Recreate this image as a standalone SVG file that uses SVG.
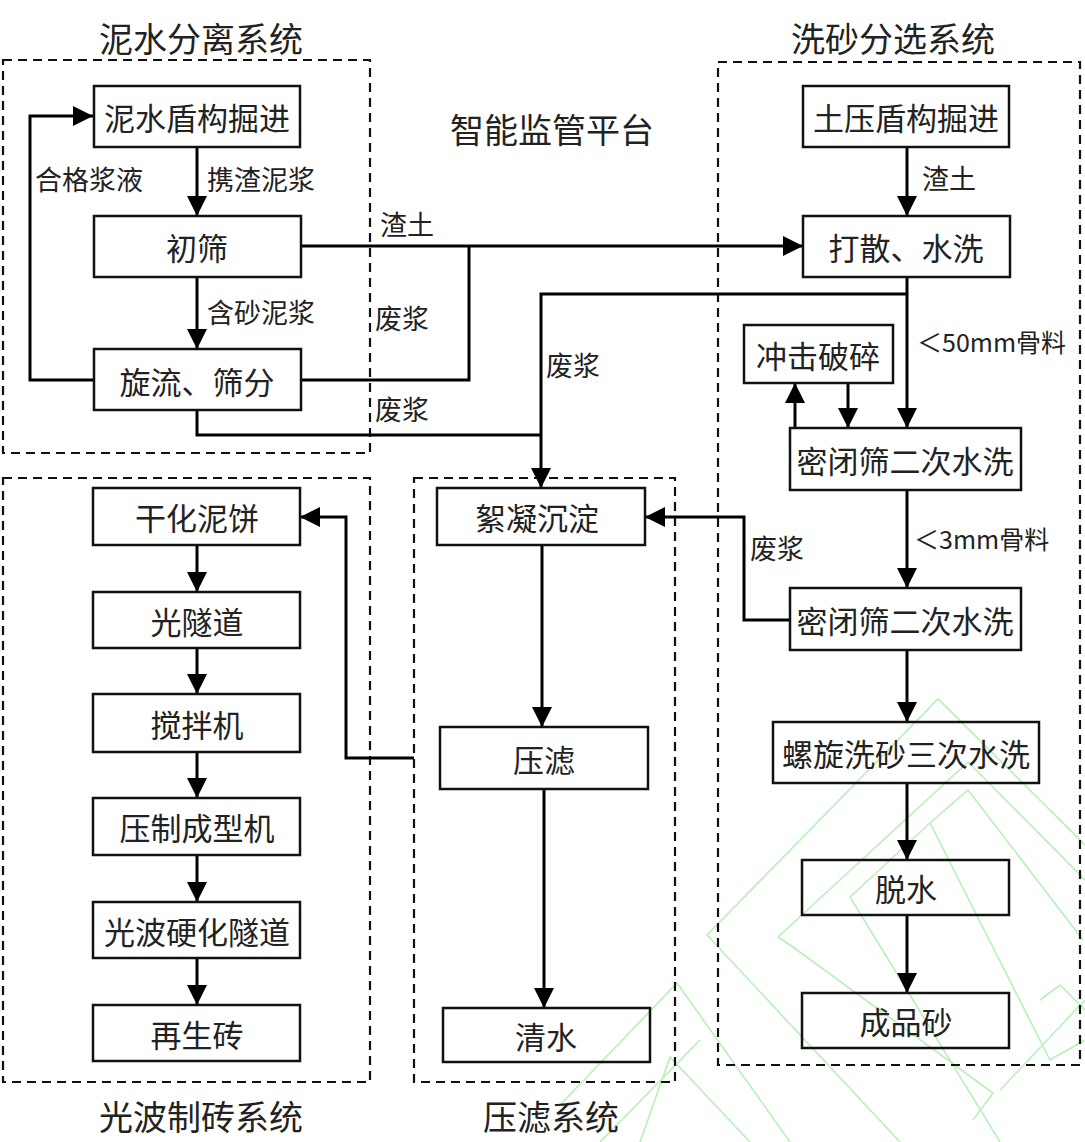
<svg xmlns="http://www.w3.org/2000/svg" width="1085" height="1142" viewBox="0 0 1085 1142">
<style>
.bg{fill:#fff}
.frame{fill:none;stroke:#111;stroke-width:2.2;stroke-dasharray:9 6}
.box{fill:none;stroke:#111;stroke-width:2.5}
.t{font-family:"Noto Sans CJK SC","Liberation Sans",sans-serif;fill:#222;text-anchor:middle;dominant-baseline:central}
.n{font-size:31px}
.lb{font-family:"Noto Sans CJK SC","Liberation Sans",sans-serif;fill:#222;font-size:27px;dominant-baseline:central}
.sm{font-size:25px}
.ti{font-size:34px}
.c{fill:none;stroke:#000;stroke-width:3}
.wm{fill:none;stroke:#b8f0b8;stroke-width:1.6}
</style>
<defs>
<marker id="ah" markerUnits="userSpaceOnUse" markerWidth="20" markerHeight="20" refX="20" refY="10" orient="auto">
<path d="M0,0 L20,10 L0,20 z" fill="#000"/>
</marker>
</defs>
<rect class="bg" x="0" y="0" width="1085" height="1142"/>

<g id="watermark">
<polyline class="wm" points="707,935 938,699 1085,845"/>
<polyline class="wm" points="707,935 900,1142"/>
<polyline class="wm" points="778,937 968,762 1085,880"/>
<polyline class="wm" points="778,937 793,947 993,1093 973,1120"/>
<polyline class="wm" points="850,897 930,823 968,790 1083,940"/>
<polyline class="wm" points="850,897 1000,1142"/>
<polyline class="wm" points="930,823 1050,1060 1085,1040"/>
<polyline class="wm" points="1040,1000 1060,985 1085,1010"/>
<polyline class="wm" points="560,1105 677,983 790,1142"/>
<polyline class="wm" points="640,1142 670,1057 750,1142"/>
<polyline class="wm" points="1000,1090 1085,1000"/>
<polyline class="wm" points="600,1142 700,1040"/>
</g>

<g id="frames">
<rect class="frame" x="3" y="60" width="367" height="393"/>
<rect class="frame" x="718" y="62" width="362" height="1003"/>
<rect class="frame" x="3" y="478" width="367" height="604"/>
<rect class="frame" x="414" y="478" width="261" height="604"/>
</g>

<g id="titles">
<text class="t ti" x="201" y="37">泥水分离系统</text>
<text class="t ti" x="893" y="37">洗砂分选系统</text>
<text class="t ti" x="552" y="128">智能监管平台</text>
<text class="t ti" x="201" y="1115">光波制砖系统</text>
<text class="t ti" x="551" y="1115">压滤系统</text>
</g>

<g id="connectors">
<line class="c" x1="197" y1="147" x2="197" y2="216" marker-end="url(#ah)"/>
<line class="c" x1="197" y1="277" x2="197" y2="349" marker-end="url(#ah)"/>
<polyline class="c" points="94,380 30,380 30,116 93,116" marker-end="url(#ah)"/>
<line class="c" x1="301" y1="246" x2="803" y2="246" marker-end="url(#ah)"/>
<polyline class="c" points="301,380 469,380 469,246"/>
<polyline class="c" points="197,410 197,435 541,435"/>
<line class="c" x1="907" y1="147" x2="907" y2="216" marker-end="url(#ah)"/>
<line class="c" x1="907" y1="277" x2="907" y2="428" marker-end="url(#ah)"/>
<polyline class="c" points="907,294 541,294 541,488" marker-end="url(#ah)"/>
<line class="c" x1="848" y1="383" x2="848" y2="428" marker-end="url(#ah)"/>
<line class="c" x1="795" y1="428" x2="795" y2="383" marker-end="url(#ah)"/>
<line class="c" x1="907" y1="490" x2="907" y2="588" marker-end="url(#ah)"/>
<polyline class="c" points="790,620 744,620 744,517 645,517" marker-end="url(#ah)"/>
<line class="c" x1="907" y1="650" x2="907" y2="722" marker-end="url(#ah)"/>
<line class="c" x1="907" y1="783" x2="907" y2="860" marker-end="url(#ah)"/>
<line class="c" x1="907" y1="915" x2="907" y2="993" marker-end="url(#ah)"/>
<line class="c" x1="542" y1="545" x2="542" y2="727" marker-end="url(#ah)"/>
<line class="c" x1="544" y1="789" x2="544" y2="1008" marker-end="url(#ah)"/>
<polyline class="c" points="414,758 346,758 346,517 300,517" marker-end="url(#ah)"/>
<line class="c" x1="197" y1="545" x2="197" y2="592" marker-end="url(#ah)"/>
<line class="c" x1="197" y1="648" x2="197" y2="694" marker-end="url(#ah)"/>
<line class="c" x1="197" y1="752" x2="197" y2="798" marker-end="url(#ah)"/>
<line class="c" x1="197" y1="855" x2="197" y2="902" marker-end="url(#ah)"/>
<line class="c" x1="197" y1="958" x2="197" y2="1005" marker-end="url(#ah)"/>
</g>

<g id="labels">
<text class="lb" x="207" y="178">携渣泥浆</text>
<text class="lb" x="35" y="178">合格浆液</text>
<text class="lb" x="207" y="311">含砂泥浆</text>
<text class="lb" x="380" y="223">渣土</text>
<text class="lb" x="375" y="317">废浆</text>
<text class="lb" x="375" y="408">废浆</text>
<text class="lb" x="546" y="364">废浆</text>
<text class="lb" x="922" y="177">渣土</text>
<text class="lb sm" x="917" y="341">＜50mm骨料</text>
<text class="lb sm" x="914" y="538">＜3mm骨料</text>
<text class="lb" x="750" y="547">废浆</text>
</g>

<g id="n-nishui-dungou"><rect class="box" x="94" y="86" width="206" height="61"/><text class="t n" x="197" y="116">泥水盾构掘进</text></g>
<g id="n-chushai"><rect class="box" x="94" y="216" width="207" height="61"/><text class="t n" x="197" y="246">初筛</text></g>
<g id="n-xuanliu"><rect class="box" x="94" y="349" width="207" height="61"/><text class="t n" x="197" y="380">旋流、筛分</text></g>

<g id="n-tuya-dungou"><rect class="box" x="803" y="86" width="206" height="61"/><text class="t n" x="906" y="116">土压盾构掘进</text></g>
<g id="n-dasan"><rect class="box" x="803" y="216" width="207" height="61"/><text class="t n" x="906" y="246">打散、水洗</text></g>
<g id="n-chongji"><rect class="box" x="744" y="325" width="149" height="58"/><text class="t n" x="818" y="354">冲击破碎</text></g>
<g id="n-mibi1"><rect class="box" x="790" y="428" width="231" height="62"/><text class="t n" x="905" y="459">密闭筛二次水洗</text></g>
<g id="n-mibi2"><rect class="box" x="790" y="588" width="231" height="62"/><text class="t n" x="905" y="619">密闭筛二次水洗</text></g>
<g id="n-luoxuan"><rect class="box" x="773" y="722" width="266" height="61"/><text class="t n" x="906" y="752">螺旋洗砂三次水洗</text></g>
<g id="n-tuoshui"><rect class="box" x="802" y="860" width="207" height="55"/><text class="t n" x="906" y="887">脱水</text></g>
<g id="n-chengpinsha"><rect class="box" x="802" y="993" width="207" height="55"/><text class="t n" x="906" y="1020">成品砂</text></g>

<g id="n-xuning"><rect class="box" x="437" y="488" width="208" height="57"/><text class="t n" x="537" y="516">絮凝沉淀</text></g>
<g id="n-yalv"><rect class="box" x="440" y="727" width="208" height="62"/><text class="t n" x="544" y="758">压滤</text></g>
<g id="n-qingshui"><rect class="box" x="443" y="1008" width="207" height="54"/><text class="t n" x="546" y="1035">清水</text></g>

<g id="n-ganhua"><rect class="box" x="93" y="488" width="207" height="57"/><text class="t n" x="197" y="516">干化泥饼</text></g>
<g id="n-guangsuidao"><rect class="box" x="93" y="592" width="207" height="56"/><text class="t n" x="197" y="620">光隧道</text></g>
<g id="n-jiaoban"><rect class="box" x="93" y="694" width="207" height="58"/><text class="t n" x="197" y="723">搅拌机</text></g>
<g id="n-yazhi"><rect class="box" x="93" y="798" width="207" height="57"/><text class="t n" x="197" y="826">压制成型机</text></g>
<g id="n-guangbo"><rect class="box" x="93" y="902" width="207" height="56"/><text class="t n" x="197" y="930">光波硬化隧道</text></g>
<g id="n-zaishengzhuan"><rect class="box" x="93" y="1005" width="207" height="56"/><text class="t n" x="197" y="1033">再生砖</text></g>
</svg>
